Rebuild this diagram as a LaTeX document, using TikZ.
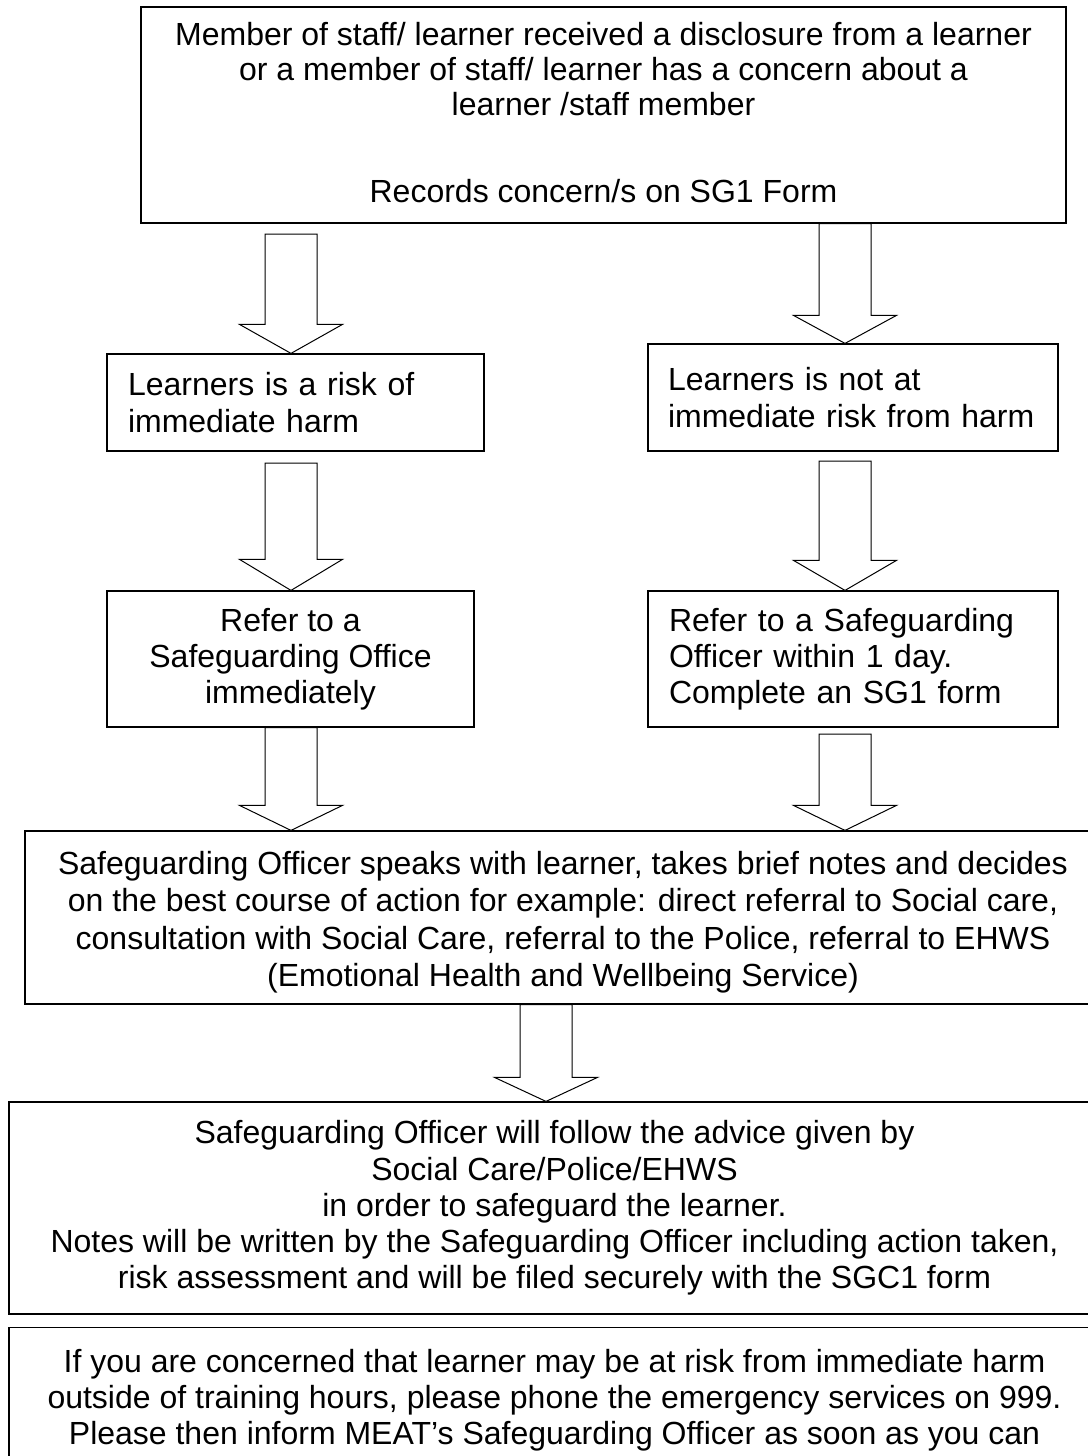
\documentclass[tikz,border=0pt]{standalone}
\usepackage{fontspec}
\setmainfont{Liberation Sans}
\usetikzlibrary{calc}

\tikzset{
  flowbox/.style={draw, line width=0.9pt, inner sep=0pt, font=\fontsize{24}{27.2}\selectfont},
  hollowarrow/.style={draw, line width=0.75pt, fill=white},
}
% hollow block arrow from #2 down to #3, #1 = head length
\newcommand{\blockarrow}[3][21pt]{%
  \draw[hollowarrow] let \p1=#2, \p2=#3 in
    (\x1-19.5pt,\y1) -- (\x1+19.5pt,\y1) -- (\x1+19.5pt,\y2-#1)
    -- (\x1+38.6pt,\y2-#1) -- (\x1,\y2) -- (\x1-38.6pt,\y2-#1)
    -- (\x1-19.5pt,\y2-#1) -- cycle;}

\begin{document}
\begin{tikzpicture}[x=0.75pt,y=0.75pt,yscale=-1,xscale=1]
\useasboundingbox (0,0) rectangle (1088,1456);
\clip (0,0) rectangle (1088,1456);

\node[flowbox, minimum width=693.75pt, minimum height=162pt, align=center, font=\fontsize{24}{26.2}\selectfont] (top) at (603.5,115)
  {Member of staff/ learner received a disclosure from a learner\\or a member of staff/ learner has a concern about a\\learner /staff member\\[39pt]Records concern/s on SG1 Form\\[-22pt]\mbox{}};
\node[flowbox, minimum width=282.75pt, minimum height=72.75pt, inner xsep=15.75pt, text width=251.25pt, align=left] (risk) at (295.5,402.5)
  {Learners is a risk of\\immediate harm};
\node[flowbox, minimum width=307.5pt, minimum height=80.25pt, inner xsep=15pt, text width=277.5pt, align=left] (norisk) at (853,397.5)
  {Learners is not at\\immediate risk from harm};
\node[flowbox, minimum width=275.25pt, minimum height=102pt, align=center] (referNow) at (290.5,659)
  {Refer to a\\Safeguarding Office\\immediately};
\node[flowbox, minimum width=307.5pt, minimum height=102pt, inner xsep=15.75pt, text width=276pt, align=left] (referDay) at (853,659)
  {Refer to a Safeguarding\\Officer within 1 day.\\Complete an SG1 form};
\node[flowbox, minimum width=807pt, minimum height=129.75pt, align=center, font=\fontsize{24}{28}\selectfont] (officer) at (563,917.5)
  {\mbox{}\\[-3.75pt]Safeguarding Officer speaks with learner, takes brief notes and decides\\on the best course of action for example: direct referral to Social care,\\consultation with Social Care, referral to the Police, referral to EHWS\\(Emotional Health and Wellbeing Service)};
\node[flowbox, minimum width=818.25pt, minimum height=159pt, align=center] (follow) at (554.5,1208)
  {Safeguarding Officer will follow the advice given by\\Social Care/Police/EHWS\\in order to safeguard the learner.\\Notes will be written by the Safeguarding Officer including action taken,\\risk assessment and will be filed securely with the SGC1 form};
\node[flowbox, minimum width=818.25pt, minimum height=108.75pt, align=center] (emergency) at (554.5,1400)
  {If you are concerned that learner may be at risk from immediate harm\\outside of training hours, please phone the emergency services on 999.\\Please then inform MEAT’s Safeguarding Officer as soon as you can};

% arrow columns and free arrow ends
\coordinate (colL) at (291,0);
\coordinate (colR) at (845,0);
\coordinate (colM) at (546,0);
\coordinate (s1L) at (291,234);
\coordinate (s2L) at (291,463);
\coordinate (s2R) at (845,461);
\coordinate (s3R) at (845,734);

\blockarrow[21.75pt]{(s1L)}{(risk.north -| colL)}
\blockarrow[21pt]{(top.south -| colR)}{(norisk.north -| colR)}
\blockarrow[23.25pt]{(s2L)}{(referNow.north -| colL)}
\blockarrow[22.5pt]{(s2R)}{(referDay.north -| colR)}
\blockarrow[18.75pt]{(referNow.south -| colL)}{(officer.north -| colL)}
\blockarrow[18.75pt]{(s3R)}{(officer.north -| colR)}
\blockarrow[18pt]{(officer.south -| colM)}{(follow.north -| colM)}
\end{tikzpicture}
\end{document}
